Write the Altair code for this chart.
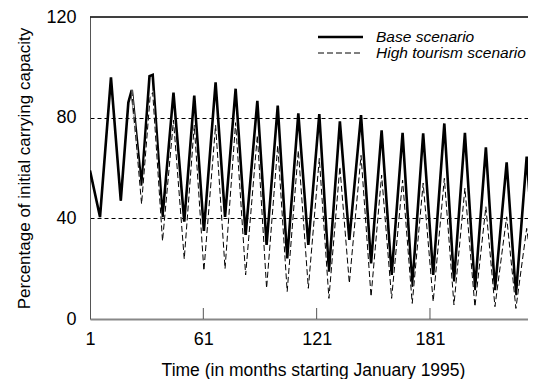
import altair as alt
import pandas as pd

# ---------------- data ----------------
series_names = ["Base scenario", "High tourism scenario"]

base_month = [1, 6.3, 12.1, 17.3, 21.3, 23.1, 28.3, 32.5, 34.2, 39.4, 45.2, 50.9, 56.2,
              61.3, 67.5, 72.5, 78.1, 83.4, 89.6, 94.5, 100.4, 105.4, 111.3, 116.6,
              122.4, 127.5, 133.3, 138.3, 144.5, 149.8, 155.4, 160.7, 166.5, 171.6,
              177.4, 182.7, 188.6, 193.7, 199.5, 204.8, 210.6, 215.4, 221.6, 226.5,
              232.2, 237.0]
base_value = [59, 40.5, 96, 47, 86, 91, 53, 96.5, 97, 40.5, 90, 38.7, 88.8,
              35, 94, 40.6, 91.5, 33.4, 86.7, 29.4, 84.8, 24.1, 81.7, 29.4,
              81.4, 18.8, 78.5, 31.4, 81, 22.1, 75, 17.5, 74, 12.8,
              73.8, 17.5, 77.7, 14.9, 74, 11.5, 68.2, 11.5, 62.2, 9.5,
              64.5, 15]

tour_month = [1, 6.3, 12.1, 17.3, 21.3, 23.1, 28.3, 32.8, 34.2, 39.4, 45.2, 50.9, 56.2,
              61.3, 67.5, 72.5, 78.1, 83.4, 89.6, 94.5, 100.4, 105.4, 111.3, 116.6,
              122.4, 127.5, 133.3, 138.3, 144.5, 149.8, 155.4, 160.7, 166.5, 171.6,
              177.4, 182.7, 188.6, 193.7, 199.5, 204.8, 210.6, 215.4, 221.6, 226.5,
              232.2, 237.0]
tour_value = [59, 40.5, 96, 47, 86, 91, 45.7, 88, 90, 31, 79, 23.8, 77,
              19.2, 77, 20, 78, 17.5, 73, 12.2, 69, 10.9, 67, 12.2,
              63.8, 8.2, 60.5, 14.2, 65, 8.9, 57.2, 8.2, 55.2, 6.2,
              54, 6.9, 55.9, 5.6, 52, 4.9, 44.6, 4.9, 40.6, 4.2,
              36, 9]

x_tick_values = [1, 61, 121, 181]
y_tick_values = [0, 40, 80, 120]
grid_values = [40, 80]

base_df = pd.DataFrame({"month": base_month, "value": base_value, "series": series_names[0]})
tour_df = pd.DataFrame({"month": tour_month, "value": tour_value, "series": series_names[1]})
tick_df = pd.DataFrame({"month": x_tick_values[1:]})
legend_df = pd.DataFrame({"series": series_names})

# ---------------- styling ----------------
FONT = "Liberation Sans"
W, H = 438, 302

x_scale = alt.Scale(domain=[1, 232.9], nice=False, zero=False)
y_scale = alt.Scale(domain=[0, 120], nice=False)

grid_test = " || ".join(f"datum.value == {g}" for g in grid_values)

x_axis = alt.Axis(
    values=x_tick_values, title="Time (in months starting January 1995)",
    grid=False, ticks=False, labelFlush=False, labelPadding=11,
    domainColor="#888888", domainWidth=2,
    labelFont=FONT, labelFontSize=18, labelColor="black",
    titleFont=FONT, titleFontSize=17.5, titleFontWeight="normal", titleColor="black",
    titleX=223, titleY=51, titleBaseline="middle", titleAlign="center",
)
y_axis = alt.Axis(
    values=y_tick_values, title="Percentage of initial carrying capacity",
    grid=True, gridColor="black", gridWidth=1, gridDash=[4, 3],
    gridOpacity=alt.condition(grid_test, alt.value(1), alt.value(0)),
    ticks=False, labelPadding=14, labelFlush=False,
    domainColor="#555555", domainWidth=1,
    labelFont=FONT, labelFontSize=18, labelColor="black", labelBaseline="middle",
    titleFont=FONT, titleFontSize=17, titleFontWeight="normal", titleColor="black",
    titleX=-66, titleY=151, titleBaseline="middle", titleAlign="center", titleAngle=270,
)

X = alt.X("month:Q", scale=x_scale, axis=x_axis)
Y = alt.Y("value:Q", scale=y_scale, axis=y_axis)

base_line = alt.Chart(base_df).mark_line(
    color="black", strokeWidth=2.6, clip=True
).encode(x=X, y=Y)

tour_under = alt.Chart(tour_df).transform_filter(alt.datum.month >= 23).mark_line(
    color="white", strokeWidth=1.3, clip=True
).encode(x=alt.X("month:Q", scale=x_scale), y=alt.Y("value:Q", scale=y_scale))

tour_line = alt.Chart(tour_df).mark_line(
    color="black", strokeWidth=1.0, strokeDash=[6, 3], clip=True
).encode(x=alt.X("month:Q", scale=x_scale), y=alt.Y("value:Q", scale=y_scale))

ticks = alt.Chart(tick_df).mark_rule(color="#555555", strokeWidth=1).encode(
    x=alt.X("month:Q", scale=x_scale), y=alt.value(H - 11), y2=alt.value(H)
)

top_border = alt.Chart(legend_df).mark_rule(color="black", strokeWidth=1).encode(
    x=alt.value(0), x2=alt.value(W), y=alt.value(0)
)

legend_layers = []
for i, name in enumerate(series_names):
    yy = 20 + 16 * i
    sub = alt.Chart(legend_df).transform_filter(alt.datum.series == name)
    if i == 0:
        sym = sub.mark_rule(color="black", strokeWidth=2.4)
    else:
        sym = sub.mark_rule(color="black", strokeWidth=1.0, strokeDash=[6, 3])
    legend_layers.append(sym.encode(x=alt.value(228), x2=alt.value(273), y=alt.value(yy)))
    legend_layers.append(
        sub.mark_text(align="left", baseline="middle", font=FONT, fontSize=15.5,
                      fontStyle="italic", color="black")
        .encode(text="series:N", x=alt.value(286), y=alt.value(yy))
    )

chart = alt.layer(
    base_line, tour_under, tour_line, ticks, top_border, *legend_layers
).properties(
    width=W, height=H,
    autosize=alt.AutoSizeParams(type="none"),
    padding={"left": 82, "top": 9, "right": 0, "bottom": 60},
    background="white",
).configure_view(stroke=None)

chart.save("out.html", embed_options={"renderer": "svg", "actions": False})
